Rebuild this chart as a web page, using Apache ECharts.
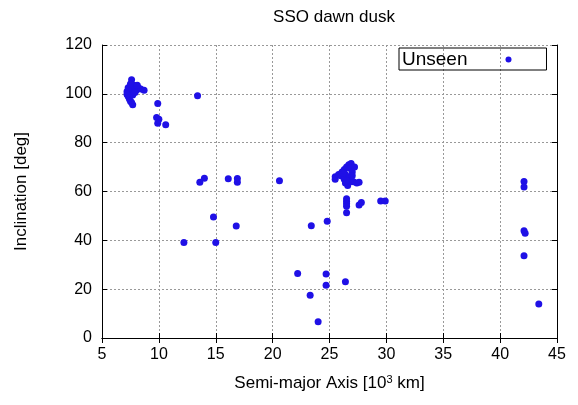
<!DOCTYPE html>
<html>
<head>
<meta charset="utf-8">
<script src="https://cdn.jsdelivr.net/npm/echarts@6/dist/echarts.min.js"></script>
<style>
  html, body { margin: 0; padding: 0; background: #fff; }
  #chart { width: 578px; height: 405px; }
</style>
</head>
<body>
<div id="chart"></div>
<script>
// semi-major axis [10^3 km], inclination [deg]
const leoPoints = [
  [7.6, 105.8], [7.2, 101], [7.3, 99], [7.4, 100.5], [7.5, 102], [7.6, 103],
  [7.7, 101], [7.8, 103.5], [7.9, 102.5], [8.0, 101.5], [8.2, 102.5], [8.4, 102],
  [8.7, 101.5], [7.4, 98], [7.5, 97], [7.7, 99.5], [7.6, 96.5], [7.7, 95.5],
  [7.3, 102.5], [8.1, 103.5], [7.5, 104], [7.9, 100.5], [7.2, 99.8],
  [9.9, 96], [9.8, 90.3], [10.0, 89.6], [9.9, 88], [10.6, 87.3], [13.4, 99.2]
]
const meoPoints = [
  [14.0, 65.4], [13.6, 63.8], [16.1, 65.2], [16.9, 65.3], [16.9, 63.8],
  [14.8, 49.6], [16.8, 45.9], [12.2, 39.1], [15.0, 39.1], [20.6, 64.4],
  [23.4, 46.0], [24.8, 47.8], [22.2, 26.4], [24.7, 26.2], [24.7, 21.6],
  [26.4, 23.0], [23.3, 17.5], [24.0, 6.7],
  [25.5, 66], [25.5, 65], [25.8, 67], [26.0, 66.5], [26.1, 68], [26.3, 69],
  [26.4, 67], [26.5, 70], [26.7, 71], [26.9, 71.5], [26.8, 69.5], [27.0, 68],
  [26.6, 66], [26.3, 65], [26.4, 63.5], [26.6, 62.5], [26.8, 64], [27.1, 64],
  [27.4, 63.5], [27.6, 63.8], [27.0, 66.5], [26.2, 67.5], [26.5, 64.5], [27.2, 70],
  [26.5, 57], [26.5, 56], [26.5, 55], [26.5, 54], [26.5, 51.3],
  [27.6, 54.5], [27.8, 55.5], [29.5, 56.1], [29.9, 56.1]
]
const geoPoints = [
  [42.1, 64.1], [42.1, 61.8], [42.1, 43.9], [42.2, 42.9], [42.1, 33.7], [43.4, 13.9]
]
const xTicks = { min: 5, max: 45, interval: 5 }
const yTicks = { min: 0, max: 120, interval: 20 }

const font = 'Liberation Sans, Arial, sans-serif'
const chart = echarts.init(document.getElementById('chart'))

const frameAxis = {
  axisLine: { show: true, lineStyle: { color: '#000', width: 1 } },
  axisTick: { show: true, inside: true, length: 5, lineStyle: { color: '#000' } },
  splitLine: { show: false },
  axisLabel: { show: false }
}

chart.setOption({
  animation: false,
  title: {
    text: 'SSO dawn dusk',
    left: 329,
    textAlign: 'center',
    top: 4,
    textStyle: { fontFamily: font, fontSize: 17, fontWeight: 'normal', color: '#000' }
  },
  legend: {
    left: 399,
    top: 48,
    align: 'right',
    icon: 'circle',
    itemWidth: 6,
    itemHeight: 6,
    itemGap: 0,
    borderColor: '#000',
    borderWidth: 1,
    padding: [2, 35, 1, 3],
    textStyle: { fontFamily: font, fontSize: 19, color: '#000', padding: [0, 33, 0, 0] },
    data: ['Unseen']
  },
  grid: { left: 102, right: 21, top: 45, bottom: 67 },
  xAxis: [
    {
      type: 'value',
      min: xTicks.min, max: xTicks.max, interval: xTicks.interval,
      name: 'Semi-major Axis [10{sup|3} km]',
      nameLocation: 'middle',
      nameGap: 36,
      nameTextStyle: {
        fontFamily: font, fontSize: 17, color: '#000',
        rich: { sup: { fontFamily: font, fontSize: 11, color: '#000', verticalAlign: 'top', padding: [0, 0, 8, 0] } }
      },
      axisLine: { show: true, lineStyle: { color: '#000' } },
      axisTick: { show: true, inside: true, length: 5, lineStyle: { color: '#000' } },
      axisLabel: { fontFamily: font, fontSize: 16, color: '#000', margin: 9 },
      splitLine: { show: true, lineStyle: { color: '#999', type: [2, 2], width: 1 } }
    },
    Object.assign({ type: 'value', position: 'top', min: xTicks.min, max: xTicks.max, interval: xTicks.interval }, frameAxis)
  ],
  yAxis: [
    {
      type: 'value',
      min: yTicks.min, max: yTicks.max, interval: yTicks.interval,
      name: 'Inclination [deg]',
      nameLocation: 'middle',
      nameGap: 72,
      nameTextStyle: { fontFamily: font, fontSize: 17, color: '#000' },
      axisLine: { show: true, lineStyle: { color: '#000' } },
      axisTick: { show: true, inside: true, length: 5, lineStyle: { color: '#000' } },
      axisLabel: { fontFamily: font, fontSize: 16, color: '#000', margin: 10 },
      splitLine: { show: true, lineStyle: { color: '#999', type: [2, 2], width: 1 } }
    },
    Object.assign({ type: 'value', position: 'right', min: yTicks.min, max: yTicks.max, interval: yTicks.interval }, frameAxis)
  ],
  series: [
    {
      name: 'Unseen',
      type: 'scatter',
      symbolSize: 7,
      itemStyle: { color: '#1f10e6', opacity: 1 },
      data: leoPoints.concat(meoPoints, geoPoints)
    }
  ]
})
</script>
</body>
</html>
